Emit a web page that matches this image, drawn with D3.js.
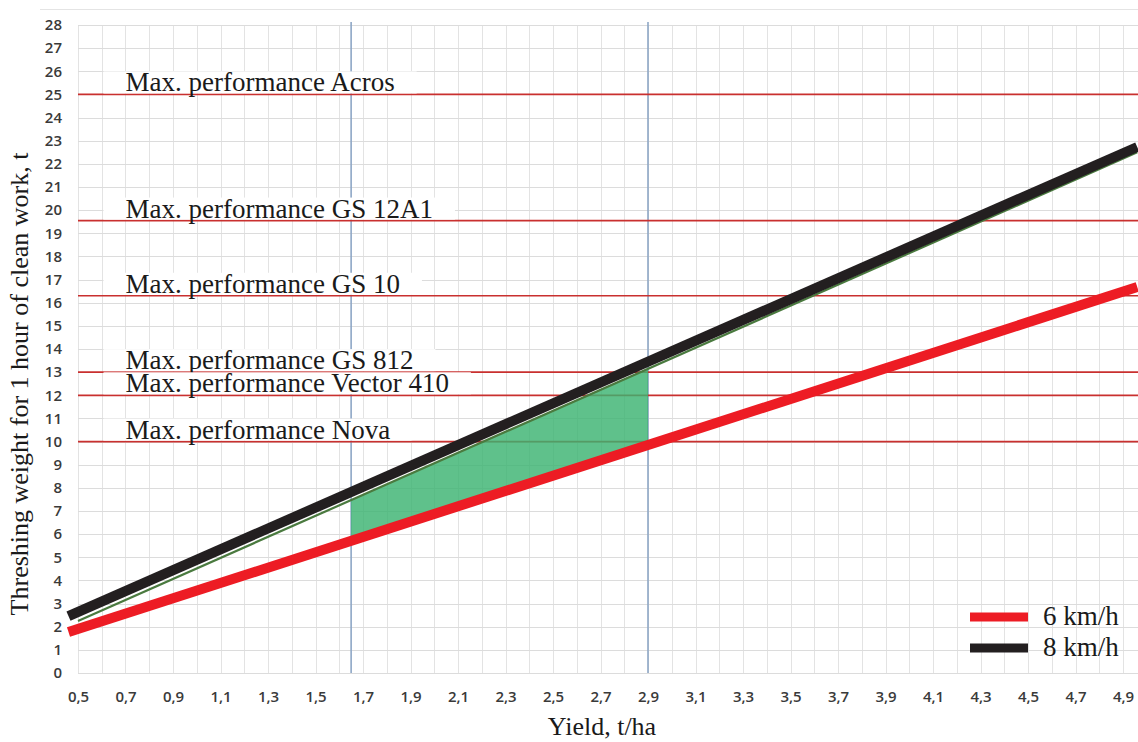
<!DOCTYPE html>
<html><head><meta charset="utf-8">
<script src="https://cdn.jsdelivr.net/npm/d3@7"></script>
<style>html,body{margin:0;padding:0;background:#fff;overflow:hidden}</style>
</head><body>
<svg id="c" width="1138" height="742"></svg>
<script>
// ---- data ----
const lineYields   = [0.46, 4.96];          // yield, t/ha (line end points)
const load6kmh     = [1.77, 16.68];         // threshing weight, t  (6 km/h)
const load8kmh     = [2.46, 22.73];         // threshing weight, t  (8 km/h)
const edgeYields   = [0.5, 4.96];
const edgeLoad     = [2.25, 22.5];          // thin green edge under the 8 km/h line
const zoneYields   = [1.65, 2.9];
const zoneLower    = [5.75, 9.93];
const zoneUpper    = [7.47, 13.15];
const markYields   = [1.65, 2.9];           // vertical marker lines
const machines     = ["Acros", "GS 12A1", "GS 10", "GS 812", "Vector 410", "Nova"];
const maxPerf      = [25, 19.55, 16.3, 13, 12, 10];
const xTickLabels  = [0.5,0.7,0.9,1.1,1.3,1.5,1.7,1.9,2.1,2.3,2.5,2.7,2.9,3.1,3.3,3.5,3.7,3.9,4.1,4.3,4.5,4.7,4.9];
const xGrid        = [0.5,0.6,0.7,0.8,0.9,1.0,1.1,1.2,1.3,1.4,1.5,1.6,1.7,1.8,1.9,2.0,2.1,2.2,2.3,2.4,2.5,2.6,2.7,2.8,2.9,3.0,3.1,3.2,3.3,3.4,3.5,3.6,3.7,3.8,3.9,4.0,4.1,4.2,4.3,4.4,4.5,4.6,4.7,4.8,4.9,5.0];
const yTicks       = [0,1,2,3,4,5,6,7,8,9,10,11,12,13,14,15,16,17,18,19,20,21,22,23,24,25,26,27,28];
const legendItems  = ["6 km/h", "8 km/h"];
const xTitle = "Yield, t/ha";
const yTitle = "Threshing weight for 1 hour of clean work, t";

// ---- layout ----
const svg = d3.select("#c");
const x = d3.scaleLinear().domain([0.5, 5.0]).range([78, 78 + 4.5 * 237.5]);
const y = d3.scaleLinear().domain([0, 28]).range([673, 25]);
const serif = "'Liberation Serif','Times New Roman',serif";
const sans = "'Open Sans','Liberation Sans',sans-serif";
const fmt = d => d3.format(".1f")(d).replace(".", ",");

// outer top border
svg.append("line").attr("x1", 40).attr("x2", 1138).attr("y1", 9.5).attr("y2", 9.5)
  .attr("stroke", "#e4e4e4").attr("stroke-width", 1);

// gridlines
const g = svg.append("g");
g.selectAll(".vg").data(xGrid).join("line")
  .attr("x1", d => Math.round(x(d)) + 0.5).attr("x2", d => Math.round(x(d)) + 0.5)
  .attr("y1", y(28)).attr("y2", y(0))
  .attr("stroke", "#e3e3e3").attr("stroke-width", 1);
g.selectAll(".hg").data(yTicks).join("line")
  .attr("x1", x(0.5)).attr("x2", 1138)
  .attr("y1", d => Math.round(y(d)) + 0.5).attr("y2", d => Math.round(y(d)) + 0.5)
  .attr("stroke", "#dcdcdc").attr("stroke-width", 1);

// axes tick labels
const xAxis = d3.axisBottom(x).tickValues(xTickLabels).tickFormat(fmt).tickSize(0).tickPadding(18);
const xa = svg.append("g").attr("transform", `translate(0,${y(0)})`).call(xAxis);
xa.select(".domain").remove();
xa.selectAll("text").attr("font-family", sans).attr("font-size", 15).attr("font-weight", 600).attr("fill", "#3a3a3a");

const yAxis = d3.axisLeft(y).tickValues(yTicks).tickFormat(d3.format("d")).tickSize(0).tickPadding(16);
const ya = svg.append("g").attr("transform", `translate(${x(0.5)},0)`).call(yAxis);
ya.select(".domain").remove();
ya.selectAll("text").attr("font-family", sans).attr("font-size", 15).attr("font-weight", 600).attr("fill", "#3a3a3a");

// vertical marker lines
svg.selectAll(".mk").data(markYields).join("line")
  .attr("x1", d => x(d)).attr("x2", d => x(d))
  .attr("y1", y(28) - 3).attr("y2", y(0))
  .attr("stroke", "#8ea7c6").attr("stroke-width", 1.6);

// max performance lines
svg.selectAll(".mp").data(maxPerf).join("line")
  .attr("x1", x(0.5)).attr("x2", 1138)
  .attr("y1", d => y(d)).attr("y2", d => y(d))
  .attr("stroke", "#c9302f").attr("stroke-width", 1.7);

// green zone
const zone = zoneYields.map((v, i) => ({x: v, lo: zoneLower[i], hi: zoneUpper[i]}));
svg.append("path").datum(zone)
  .attr("d", d3.area().x(d => x(d.x)).y0(d => y(d.lo)).y1(d => y(d.hi)))
  .attr("fill", "#3cb371").attr("fill-opacity", 0.82);

// lines
const line = d3.line().x(d => x(d[0])).y(d => y(d[1]));
svg.append("path").datum(edgeYields.map((v, i) => [v, edgeLoad[i]]))
  .attr("d", line).attr("fill", "none").attr("stroke", "#4a7a3f").attr("stroke-width", 2.2);
svg.append("path").datum(lineYields.map((v, i) => [v, load6kmh[i]]))
  .attr("d", line).attr("fill", "none").attr("stroke", "#ed1c24").attr("stroke-width", 10);
svg.append("path").datum(lineYields.map((v, i) => [v, load8kmh[i]]))
  .attr("d", line).attr("fill", "none").attr("stroke", "#231f20").attr("stroke-width", 10);

// labels with white boxes
const lab = svg.append("g");
machines.forEach((m, i) => {
  const base = y(maxPerf[i]) - 3;
  const grp = lab.append("g");
  const rect = grp.append("rect").attr("fill", "#fff");
  const t = grp.append("text").attr("x", x(0.7)).attr("y", base)
    .attr("font-family", serif).attr("font-size", 27).attr("fill", "#1a1a1a")
    .text("Max. performance " + m);
  const bb = t.node().getBBox();
  rect.attr("x", bb.x - 22).attr("y", base - 20)
      .attr("width", bb.width + 44).attr("height", Math.max(0, y(maxPerf[i]) - 1 - (base - 20)));
});

// legend
const legColors = ["#ed1c24", "#231f20"];
const leg = svg.append("g");
legendItems.forEach((s, i) => {
  const yy = 617 + i * 31;
  leg.append("line").attr("x1", 970).attr("x2", 1028).attr("y1", yy).attr("y2", yy)
    .attr("stroke", legColors[i]).attr("stroke-width", 9);
  leg.append("text").attr("x", 1043).attr("y", yy + 8)
    .attr("font-family", serif).attr("font-size", 27).attr("fill", "#1a1a1a").text(s);
});

// axis titles
svg.append("text").attr("x", 602).attr("y", 735).attr("text-anchor", "middle")
  .attr("font-family", serif).attr("font-size", 26).attr("fill", "#1a1a1a").text(xTitle);
svg.append("text").attr("transform", "translate(28,384) rotate(-90)").attr("text-anchor", "middle")
  .attr("font-family", serif).attr("font-size", 26).attr("fill", "#1a1a1a").text(yTitle);
</script>
</body></html>
